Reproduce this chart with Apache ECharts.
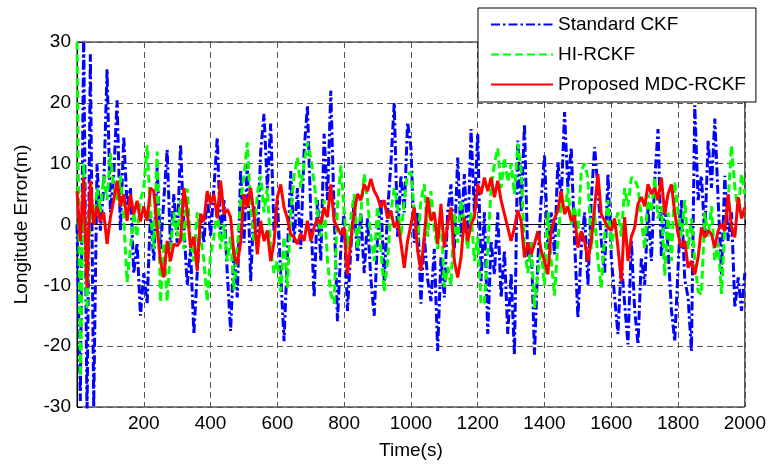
<!DOCTYPE html>
<html>
<head>
<meta charset="utf-8">
<script src="https://cdn.jsdelivr.net/npm/echarts@6/dist/echarts.min.js"></script>
<style>
  html, body { margin: 0; padding: 0; background: #fff; }
  #chart { width: 769px; height: 466px; }
</style>
</head>
<body>
<div id="chart"></div>
<script>
// Sampling step of the error records (s)
const STEP = 10;

// Longitude error (m), one value every 10 s from 0 to 2000 s
const standardCKF = [
  0, -29, 32, -32, 28, -30, 10, -1, 6, 25.5,
  2, 8, 20.4, -1, 14.5, 3, 6, -8, -3, -15,
  -8, -13, 2, -6, 9.4, -4, 4, 12.3, -4, 5,
  -3, 13.2, 0, -10, -4, -18, -8, 2, -3, 5,
  -2, 6, 14.3, -2, 4, -8, -17.5, -4, -12, 9,
  -3, 10, -9.3, 3, -4, 12, 18.2, 6, 16.6, -1,
  4, -8, -19.2, -5, 8.8, -3, 6, -4, 12, 19.5,
  2, -12, 4, -6, 14.9, 4, 22, 2, -15.9, -4,
  2, -14.2, -4, 3.9, -6, 2, -8, 1, -9, -15,
  -2, 4, -9.3, 2, 10, 20, -2, 8, 2, 16.8,
  12.7, -3, 2, -13, -2, -9, -12.6, -4, -20.8, -5.4,
  -12, 2, 6.6, -4, 11, -2, 8.3, -3, 15.7, 2,
  14.9, -9.3, 2, -18, -2.7, -8.2, 2, -12, -4.3, -18,
  -8, -21.4, 13.8, 2, 16.5, -6, -2.7, -21.4, -6, 4,
  11.4, -4, 2, -4.9, 10.3, 4, 18.5, 6, 12.7, -2.7,
  -15.3, -4, 2, -10, 4, 12.7, 6, -2.7, -8, 8.3,
  -5.4, -12, -18, -6, -13, -19.7, -2.7, -14, -19.7, -5.4,
  -10, 2.8, -6, 7.2, 15.7, -5.4, 4, -4, -14, -19.2,
  -7.1, 4, -9, -12, -20.8, 19.6, 4, 8, -2, 13.8,
  6, 17.4, 4, -8.2, 8, -2.7, 2, -13.7, -8.7, -14.2,
  -8
];

const hiRCKF = [
  30, -25, 10, -14, 4, 0, 6, 2, 8, 4,
  11.7, 6, 4, 8, 1, -9.5, -4, 2, -2, 4,
  6, 13, 2, -4, 12, -12.8, -3, -12.6, -4, 2,
  -2, 4, -4, 5.9, -3, -6, 2, -2, -6, -12.6,
  -5, -2, 3, -4, 0, -6, -2, -10.8, -4, 4,
  8, 13.5, 3, -3, 5, 8, 2, 6, -4, -8,
  -6, -11, -2, -10.4, 2, 8, 11, 6, 10, 13.5,
  11, 7, 2, -2, 4, -6, -11.4, -13, 3, 9.7,
  2, -4, 1, 5, -4, 2, 8.3, 4, -2, -6,
  3, -4, -11, -6, 2, 6, 3, -2, 4, 8.3,
  8.6, 2, -3, 4, 6.6, -2, 5.5, -1, -4, 2,
  -10.3, -7, -10, 2, -3, 4, 0, -4, 2, -6,
  -2, -13, -13, -4, 6, 10, 12.5, 6, 11, 7,
  10, 5, 13.3, 9, -4, -8, -3, -13.7, -8, -4,
  -10, 2, -6, -11.7, -3, 4, 2, 6, 0, 3,
  -2, 8.9, 10, 7.7, -4, 2, -6, -10.4, -2, 4,
  -4, 0, 2, -2, 6, 3, 7.7, 7.5, 6, 1,
  -4, 5, 2, 7.7, 1, 3, -8.4, 2, -6, 7,
  2, -2, 4, -4, 1, -6, -11, -11.5, 2, -2,
  3, -6, -3, -11.4, 0, 4, 13, 6, 2, 8.3,
  5
];

const mdcRCKF = [
  5.5, -2.7, 7.7, -10.4, 7.2, 0, 3, 0.5, 2, -3.2,
  1.2, 4, 7.2, 3, 5, 0.6, 5, 1.7, 3.9, 0.5,
  3, 0.6, 6, 5.5, -0.5, -6, -8.7, -2.7, -6, -3.2,
  -3.5, -2.7, 6, 2.3, -3.8, -2, -7.6, 1.7, 0.5, 5.5,
  3.4, 5, 1, 7.2, 1.7, 2.5, 1.2, -4.9, -6.5, -3,
  5, 2.8, 6, 1.7, -4.9, 0.6, -2.7, -1, -6, -3,
  4.5, 6.6, 2.8, 1, -1.6, -2.1, -3.2, -1.5, -2.7, 0.6,
  -2.7, -0.5, 1, 0.1, 2.8, 1.2, 6.6, 0.6, -0.5, -1.6,
  -0.5, -8.2, -2.7, 2, 5, 4, 6.6, 5.5, 7.5, 5.5,
  4.5, 2.8, 4, 1, 2.3, -0.5, 0.6, -3, -7.1, -2.7,
  0, 2.8, -4.3, -7.6, -2, 4.5, 0.6, 2, -3.2, 3.4,
  -3.8, 0, 2.8, -6, -8.7, -5.4, 1.2, -2.7, 0, 1.2,
  6.6, 5, 7.7, 5.5, 7.7, 4.5, 7.2, 4, 1.7, -0.5,
  -2.7, -0.5, 2.3, 0.6, -5.4, -3, -4.9, -3.2, -1.1, -4.3,
  -6, -8.2, -1.1, 1, 2.3, 5.5, 1.7, 3, 0.6, 1.5,
  -3.8, -1.1, -2.7, -6, -2.7, 2.8, 8.3, 1.7, 0.6, -0.5,
  -1, 1, -3.8, -9.3, 1.2, -6, -2, -0.5, 3.4, 4.5,
  3, 6.6, 5, 6, 4, 7.7, 1.7, 5, 6.6, 2,
  -1.6, -3.8, -2.7, -7.1, -6, -8.2, -5.4, -0.5, -2.1, -1,
  -1.6, -3.8, -1, 0.1, -1.1, 5, -0.5, -2.1, 4.5, 1,
  2.8
];

const seriesNames = ['Standard CKF', 'HI-RCKF', 'Proposed MDC-RCKF'];

// Axis ranges and tick spacing
const xRange = [0, 2000], xStep = 200;
const yRange = [-30, 30], yStep = 10;

const FONT = '"Liberation Sans", Arial, Helvetica, sans-serif';

function pairs(values) {
  return values.map((v, i) => [i * STEP, v]);
}

const gridLine = { show: true, lineStyle: { color: '#555', type: [6, 4], width: 1 } };

const chart = echarts.init(document.getElementById('chart'), null, { renderer: 'canvas' });
chart.setOption({
  animation: false,
  backgroundColor: '#fff',
  grid: {
    left: 77, right: 23.5, top: 42, bottom: 59,
    show: true, borderColor: '#000', borderWidth: 1, backgroundColor: 'transparent'
  },
  legend: {
    orient: 'vertical',
    left: 478, top: 8,
    padding: [7, 10, 8, 12],
    itemWidth: 62, itemHeight: 19, itemGap: 11,
    backgroundColor: '#fff', borderColor: '#000', borderWidth: 1,
    itemStyle: { opacity: 0 },
    textStyle: { fontFamily: FONT, fontSize: 19, color: '#000' },
    data: seriesNames
  },
  xAxis: {
    type: 'value', min: xRange[0], max: xRange[1], interval: xStep,
    name: 'Time(s)', nameLocation: 'middle', nameGap: 34,
    nameTextStyle: { fontFamily: FONT, fontSize: 19, color: '#000' },
    axisLine: { show: true, lineStyle: { color: '#000', width: 1 } },
    axisTick: { show: true, inside: true, length: 5, lineStyle: { color: '#000' } },
    axisLabel: {
      fontFamily: FONT, fontSize: 19, color: '#000', margin: 7,
      showMinLabel: false,
      formatter: v => (v === 0 ? '' : String(v))
    },
    splitLine: gridLine
  },
  yAxis: {
    type: 'value', min: yRange[0], max: yRange[1], interval: yStep,
    name: 'Longitude Error(m)', nameLocation: 'middle', nameGap: 46,
    nameTextStyle: { fontFamily: FONT, fontSize: 19, color: '#000' },
    axisLine: { show: true, lineStyle: { color: '#000', width: 1 } },
    axisTick: { show: true, inside: true, length: 5, lineStyle: { color: '#000' } },
    axisLabel: { fontFamily: FONT, fontSize: 19, color: '#000', margin: 6 },
    splitLine: gridLine
  },
  series: [
    {
      name: seriesNames[0], type: 'line', data: pairs(standardCKF),
      showSymbol: false, symbol: 'none', clip: true,
      lineStyle: { color: '#0000ff', width: 3, type: [9, 3, 2.5, 3] },
      itemStyle: { color: '#0000ff' }
    },
    {
      name: seriesNames[1], type: 'line', data: pairs(hiRCKF),
      showSymbol: false, symbol: 'none', clip: true,
      lineStyle: { color: '#00ff00', width: 3, type: [8, 4] },
      itemStyle: { color: '#00ff00' }
    },
    {
      name: seriesNames[2], type: 'line', data: pairs(mdcRCKF),
      showSymbol: false, symbol: 'none', clip: true,
      lineStyle: { color: '#ff0000', width: 3, type: 'solid' },
      itemStyle: { color: '#ff0000' }
    }
  ]
});
</script>
</body>
</html>
